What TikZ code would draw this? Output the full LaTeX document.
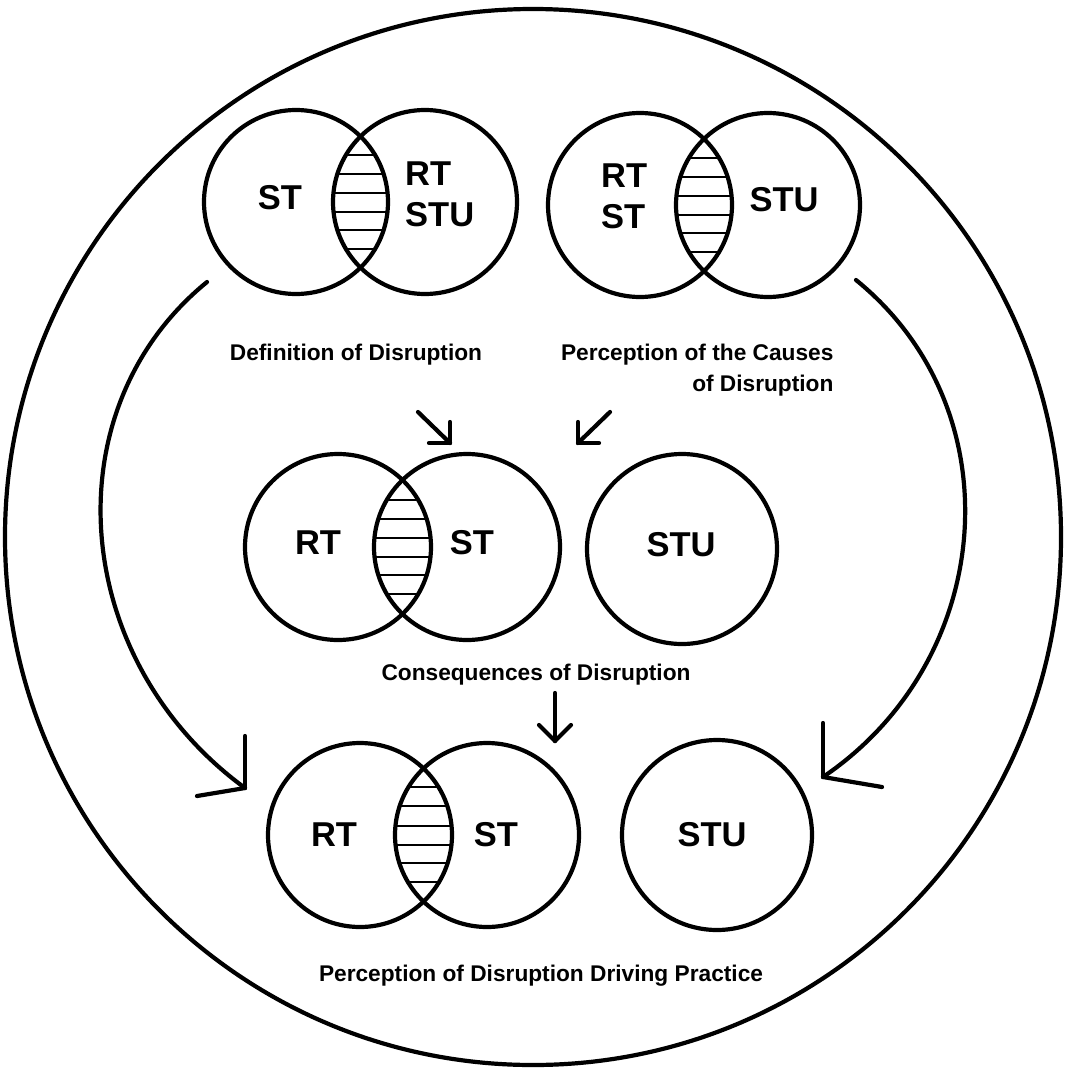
\documentclass[tikz,border=0pt]{standalone}
\usepackage{fontspec}
\setmainfont{Liberation Sans}
\begin{document}
\begin{tikzpicture}[x=1pt,y=-1pt,
  vcirc/.style={circle,draw,line width=4.2pt,inner sep=0pt,minimum size=#1},
  big/.style={font=\fontsize{34.5}{41}\selectfont\bfseries},
  captext/.style={font=\fontsize{22.7}{31}\selectfont\bfseries,anchor=base},
  arr/.style={line width=4.2pt,line cap=round,line join=miter},
  hatch/.style={line width=2pt}]
\useasboundingbox (0,0) rectangle (1065,1068);

% outer circle
\node[vcirc=1056pt] (outer) at (533,537) {};

% ---------- top-left Venn ----------
\begin{scope}
  \clip (296,202) circle (92pt);
  \clip (425,202) circle (92pt);
  \foreach \d in {-47,-28,-9,10,28,47}
    \draw[hatch] (300,202+\d) -- (420,202+\d);
\end{scope}
\node[vcirc=184pt] (tlA) at (296,202) {};
\node[vcirc=184pt] (tlB) at (425,202) {};
\node[big] (tlAt) at (280,198) {ST};
\node[big,align=left,anchor=west,inner sep=0pt] (tlBt) at (405,194) {RT\\STU};

% ---------- top-right Venn ----------
\begin{scope}
  \clip (640,205) circle (92pt);
  \clip (768,205) circle (92pt);
  \foreach \d in {-47,-28,-9,10,28,47}
    \draw[hatch] (640,205+\d) -- (770,205+\d);
\end{scope}
\node[vcirc=184pt] (trA) at (640,205) {};
\node[vcirc=184pt] (trB) at (768,205) {};
\node[big,align=left,anchor=west,inner sep=0pt] (trAt) at (601,196) {RT\\ST};
\node[big] (trBt) at (784,200) {STU};

% captions top
\node[captext] (capDef) at (356,360) {Definition of Disruption};
\node[captext,align=right,anchor=base east] (capCause) at (837,391) {Perception of the Causes\\of Disruption};

% ---------- middle ----------
\begin{scope}
  \clip (338,547) circle (93pt);
  \clip (467,547) circle (93pt);
  \foreach \d in {-47,-28,-9,10,28,47}
    \draw[hatch] (340,547+\d) -- (470,547+\d);
\end{scope}
\node[vcirc=186pt] (mA) at (338,547) {};
\node[vcirc=186pt] (mB) at (467,547) {};
\node[vcirc=190pt] (mC) at (682,549) {};
\node[big] (mAt) at (318,543) {RT};
\node[big] (mBt) at (472,543) {ST};
\node[big] (mCt) at (681,545) {STU};
\node[captext] (capCons) at (536,680) {Consequences of Disruption};

% ---------- bottom ----------
\begin{scope}
  \clip (360,835) circle (92pt);
  \clip (487,835) circle (92pt);
  \foreach \d in {-48,-29,-9,10,28,47}
    \draw[hatch] (360,835+\d) -- (490,835+\d);
\end{scope}
\node[vcirc=184pt] (bA) at (360,835) {};
\node[vcirc=184pt] (bB) at (487,835) {};
\node[vcirc=190pt] (bC) at (717,835) {};
\node[big] (bAt) at (334,835) {RT};
\node[big] (bBt) at (496,835) {ST};
\node[big] (bCt) at (712,835) {STU};
\node[captext] (capDrive) at (541,981) {Perception of Disruption Driving Practice};

% ---------- arrows ----------
\coordinate (Ls) at (207,282);
\coordinate (Le) at (245,788);
\draw[arr] (Ls) .. controls (50,410) and (70,660) .. (Le);
\draw[arr] (Le) -- ++(0,-52);
\draw[arr] (Le) -- ++(-48,8);

\coordinate (Rs) at (856,280);
\coordinate (Re) at (823,777);
\draw[arr] (Rs) .. controls (1016,410) and (996,660) .. (Re);
\draw[arr] (Re) -- ++(0,-54);
\draw[arr] (Re) -- ++(59,10);

\coordinate (a1s) at (418,412);
\coordinate (a1e) at (450,443);
\draw[arr] (a1s) -- (a1e);
\draw[arr] (a1e) -- ++(0,-21);
\draw[arr] (a1e) -- ++(-21,0);

\coordinate (a2s) at (610,412);
\coordinate (a2e) at (578,443);
\draw[arr] (a2s) -- (a2e);
\draw[arr] (a2e) -- ++(0,-21);
\draw[arr] (a2e) -- ++(21,0);

\coordinate (a3s) at (555,693);
\coordinate (a3e) at (555,741);
\draw[arr] (a3s) -- (a3e);
\draw[arr] (a3e) -- ++(-16,-16);
\draw[arr] (a3e) -- ++(16,-16);
\end{tikzpicture}
\end{document}
